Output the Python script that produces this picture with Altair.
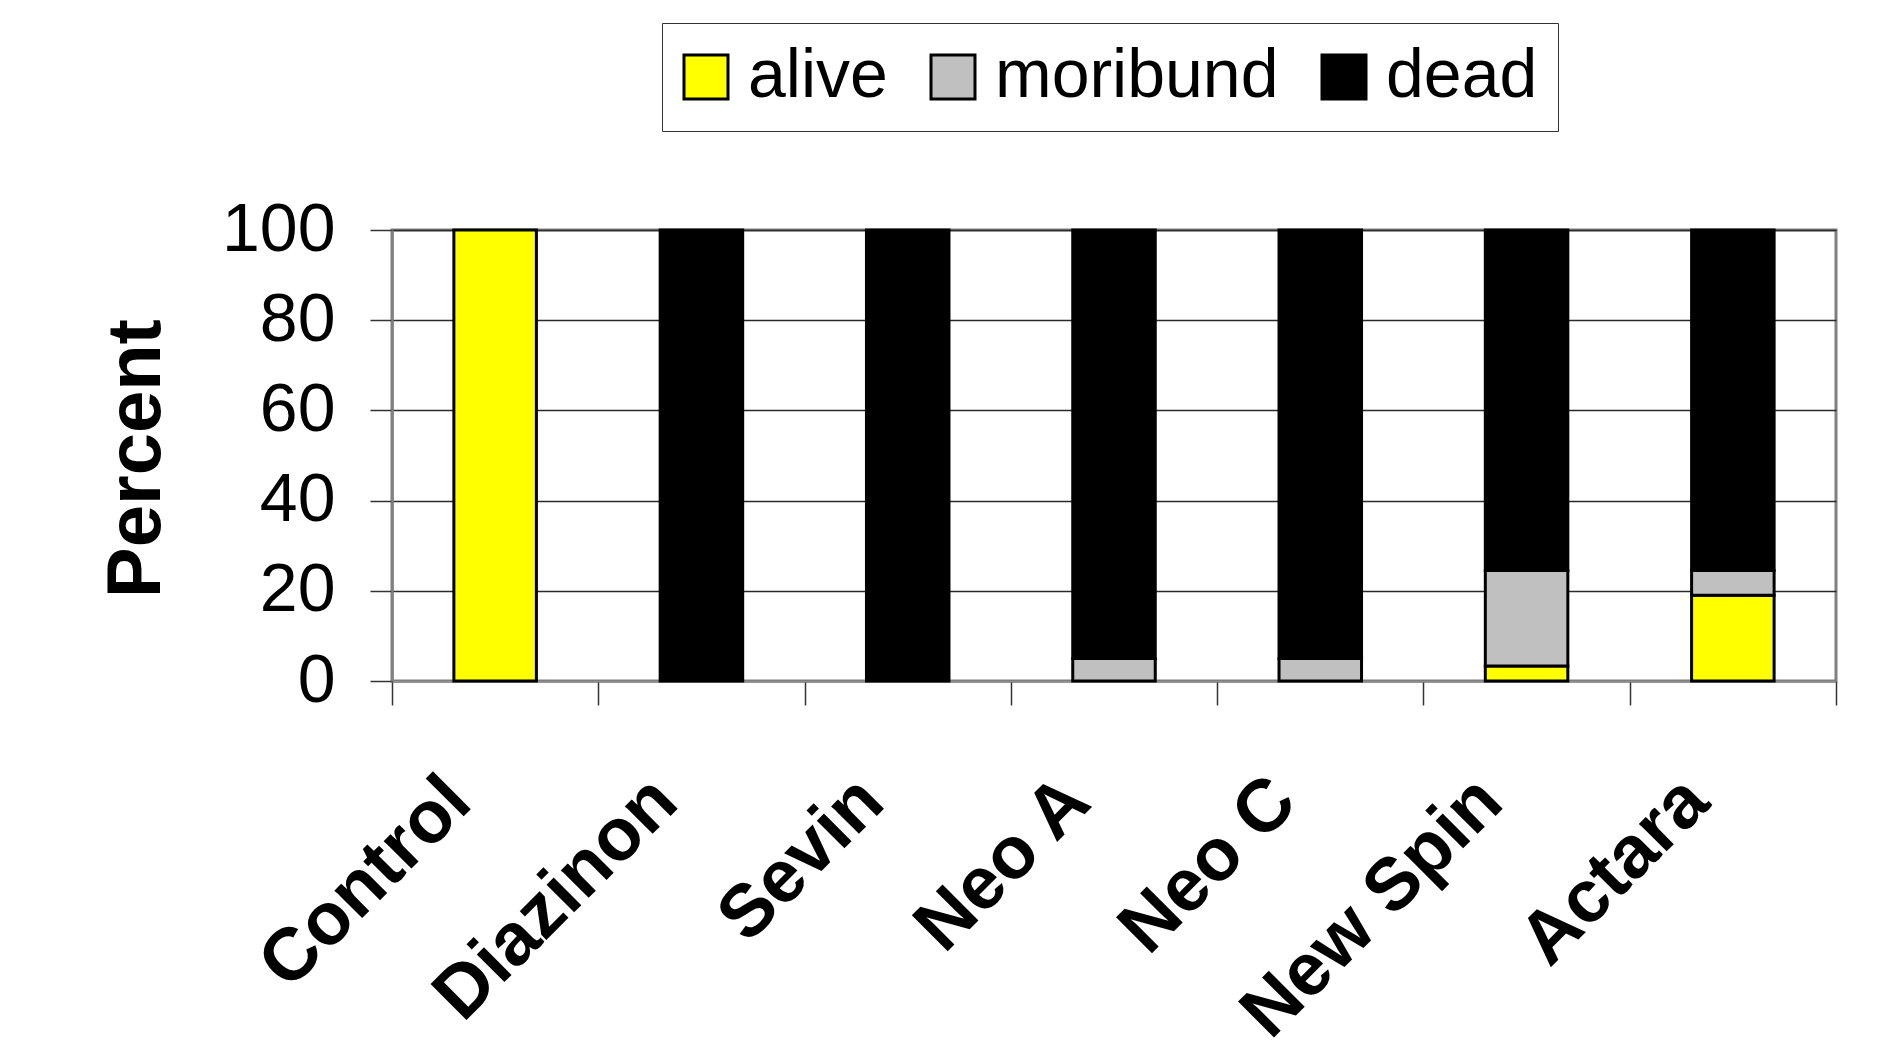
import altair as alt
import pandas as pd

treatments = ["Control", "Diazinon", "Sevin", "Neo A", "Neo C", "New Spin", "Actara"]
alive = [100, 0, 0, 0, 0, 3.3, 19]
moribund = [0, 0, 0, 5, 5, 21.2, 5.5]
dead = [0, 100, 100, 95, 95, 75.5, 75.5]
statuses = ["alive", "moribund", "dead"]
status_colors = ["#FFFF00", "#C0C0C0", "#000000"]
y_ticks = [0, 20, 40, 60, 80, 100]

rows = []
for i, t in enumerate(treatments):
    for k, (s, vals) in enumerate(zip(statuses, [alive, moribund, dead])):
        if vals[i] > 0:
            rows.append({"treatment": t, "status": s, "rank": k, "value": vals[i]})
df = pd.DataFrame(rows)

FONT = "Liberation Sans"

chart = alt.Chart(df).mark_bar(
    stroke="black", strokeWidth=3, width=alt.RelativeBandSize(0.4)
).encode(
    x=alt.X(
        "treatment:N",
        sort=treatments,
        title=None,
        scale=alt.Scale(paddingInner=0, paddingOuter=0),
        axis=alt.Axis(
            labelAngle=-45, labelAlign="right", labelBaseline="alphabetic",
            labelFont=FONT, labelFontWeight="bold", labelFontSize=74,
            labelPadding=100, labelOffset=-21, labelLimit=0, labelOverlap=False,
            labelColor="black",
            tickBand="extent", tickSize=24, tickColor="#333333", tickWidth=1.5,
            domainColor="#909090", domainWidth=2, grid=False, zindex=0,
        ),
    ),
    y=alt.Y(
        "value:Q",
        stack="zero",
        scale=alt.Scale(domain=[0, 100], nice=False),
        axis=alt.Axis(
            values=y_ticks, title="Percent",
            titleFont=FONT, titleFontWeight="bold", titleFontSize=76, titleColor="black",
            titleAngle=270, titleAlign="center", titleBaseline="alphabetic",
            titleX=-233, titleY=228,
            labelFont=FONT, labelFontSize=68, labelColor="black", labelPadding=35,
            tickSize=22, tickColor="#333333", tickWidth=1.5,
            domainColor="#808080", domainWidth=2.5,
            grid=True, gridColor="#2a2a2a", gridWidth=1.3, zindex=0,
        ),
    ),
    color=alt.Color(
        "status:N",
        scale=alt.Scale(domain=statuses, range=status_colors),
        legend=alt.Legend(
            title=None, orient="none", legendX=270, legendY=-207,
            direction="horizontal", symbolType="square", symbolSize=1936,
            symbolStrokeColor="black", symbolStrokeWidth=3, symbolOpacity=1,
            symbolOffset=-10,
            labelFont=FONT, labelFontSize=68, labelColor="black", labelOffset=8,
            labelLimit=0, columnPadding=37, padding=20,
            strokeColor="#333333", fillColor="white",
        ),
    ),
    order=alt.Order("rank:Q", sort="ascending"),
).properties(
    width=1444,
    height=451,
    autosize=alt.AutoSizeParams(type="none"),
    padding={"left": 384, "top": 222, "right": 30, "bottom": 360},
).configure_view(
    stroke="#808080", strokeWidth=3
)

chart.save("out.html", embed_options={"renderer": "svg", "actions": False})
